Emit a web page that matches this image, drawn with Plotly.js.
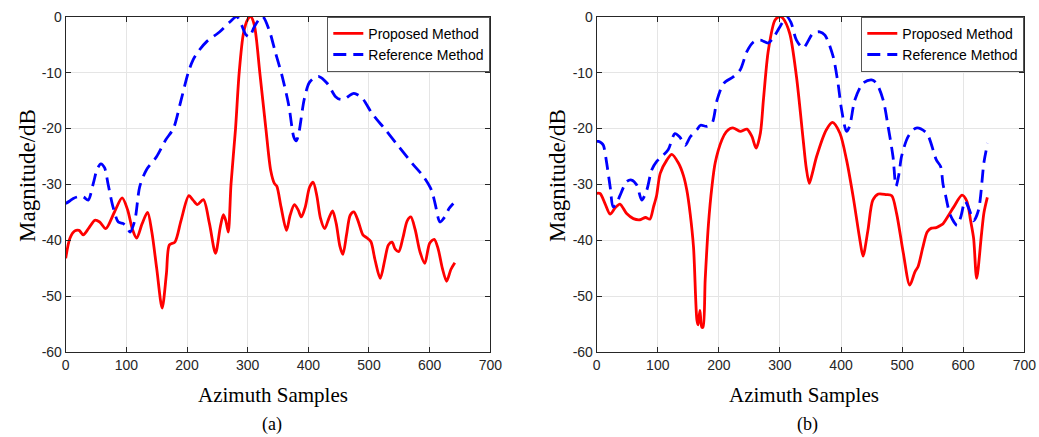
<!DOCTYPE html>
<html>
<head>
<meta charset="utf-8">
<script src="https://cdn.plot.ly/plotly-3.0.1.min.js"></script>
<style>html,body{margin:0;padding:0;background:#fff;}#chart{width:1039px;height:437px;}</style>
</head>
<body>
<div id="chart"></div>
<script>
// ---- Data ----
const seriesNames = ["Proposed Method", "Reference Method"];
const xTickVals = [0, 100, 200, 300, 400, 500, 600, 700];
const xTickText = ["0", "100", "200", "300", "400", "500", "600", "700"];
const yTickVals = [-60, -50, -40, -30, -20, -10, 0];
const yTickText = ["-60", "-50", "-40", "-30", "-20", "-10", "0"];
const panelLabels = ["(a)", "(b)"];

// Panel (a) – Proposed Method
const aPropX = [0,7,15,22,29,38,48,56,66,80,93,102,110,117,126,135,142,150,159,166,171,180,190,203,210,217,227,237,247,255,260,264,268,272.5,280,286,293,300,305,311,320,330,338,344,348,355,364,370,377,383,388.5,395,402,408,414,420,427,434,440,446,452,457,463,469,475,482,490,496,503,510,518.6,526,532,538,543,549,556,563,569,576,584,592,600,607.6,614,621,628,635,641.5];
const aPropY = [-43.2,-39.6,-38.3,-38.2,-39.0,-37.8,-36.4,-36.7,-37.9,-35.0,-32.4,-34.5,-38.0,-39.6,-37.0,-35.0,-38.5,-45.0,-52.1,-46.0,-40.8,-40.3,-36.5,-32.0,-32.8,-33.6,-32.7,-37.0,-42.3,-37.5,-35.4,-36.5,-38.5,-30,-20,-10,-3,-0.5,0,-1.5,-10,-20,-27.5,-29.8,-30.3,-34,-38.2,-35.5,-33.6,-34.5,-35.8,-34,-30.5,-29.6,-32,-36,-37.9,-36,-34.7,-37,-41,-42.5,-39,-35.5,-34.9,-36.5,-39,-39.5,-40.2,-43.5,-46.8,-43.5,-40.8,-40.3,-41.5,-42.0,-39.5,-36.5,-35.8,-38,-42,-44.1,-40.5,-39.8,-41.5,-45,-47.3,-45.2,-44];
// Panel (a) – Reference Method
const aRefX = [0,6,12.5,20,29,37,45.5,52,58,64,70,78,86.7,95,100,106,114,122,133,150,165,177.5,190,202,210,220,232,254,271,282,290,297,303,310,318,325,335.5,346,357,368,376,380,384,393,401,409,417.5,431,445,453,461,475,489,505,527,549,571,590,603,609,617,625,632,639];
const aRefY = [-33.4,-33.0,-32.5,-32.2,-32.2,-32.8,-29.8,-27.2,-26.3,-27.0,-30,-34,-36.7,-37,-37.5,-38.5,-36.4,-30.4,-27.4,-25,-22,-20,-15,-10,-7.7,-6,-4.5,-2.7,-0.9,0,-1.5,-3.2,-3.6,-2,-0.6,0,-2.4,-6.5,-10.7,-16,-21.5,-22.2,-21,-14.9,-11.9,-11,-10.7,-11.9,-14.3,-14.8,-14.6,-13.7,-14.6,-17.3,-20.2,-23.2,-26.2,-28.6,-31,-33.4,-36.7,-35.8,-34.3,-33.4];

// Panel (b) – Proposed Method
const bPropX = [0,5.5,13.6,22,30,38,49,60,71,80,87,93,98,104,115,123,134,142,147.5,153,158.5,164,166,169,172,174,177.6,183,188.5,194,205,212,218.6,224,235,246,254,261,268,273,281,292,300,305,316,327,338,343,348,353,360,376,386,398,409,420,431,436,444,452,461,474,483,491,502,512.5,521,526,534,541,548,556,563,567,584.6,598,606,612,617,622,630,634,639.5];
const bPropY = [-31.6,-31.6,-33.4,-35.3,-34.2,-33.5,-35.2,-36.1,-36.3,-35.9,-36.2,-34,-32,-28,-25.6,-24.6,-26.2,-28.4,-31,-35.2,-41.2,-54.2,-55.1,-52.5,-55.5,-55.5,-47,-37,-30.5,-26.1,-22,-20.6,-20,-19.9,-20.5,-20.1,-21.4,-23.5,-20.8,-14.8,-6,-0.6,0,-0.3,-3,-10.7,-22,-27,-29.8,-28,-25,-20.2,-18.9,-20.8,-25.6,-32.3,-40,-42.8,-38.2,-32.8,-31.7,-31.8,-32,-35.2,-42.3,-48,-45.6,-44.7,-41.2,-38.5,-37.8,-37.7,-37.3,-37,-34,-31.9,-33,-36.4,-39.6,-46.8,-38.8,-35,-32.3];
// Panel (b) – Reference Method
const bRefX = [0,3,8,11,16.4,22,27,32,38,49,57,65.6,73.8,82,90,98,106.6,117,128,136,145,153,164,170,180,189,197,208,224,235,246,257,268,281,290,300,311,318,327,338,354,365,373.6,387,395,401,409,414,422.6,436,450,458,469,477,485,490,495,499,510,523,540,556,563,567,571,579,590,596,603,610,617,625,634,640];
const bRefY = [-22.3,-22.3,-22.6,-23,-26.2,-30.4,-34,-33.5,-32,-29.5,-29.2,-30.1,-32.8,-31,-27.4,-25.9,-25,-23.8,-20.9,-21.5,-23,-21.5,-20.2,-19.4,-19.6,-19,-14.9,-11.9,-10.7,-9.5,-6.2,-4.5,-4.2,-4.7,-3.6,-1.8,0,-1,-4.2,-5.6,-3,-2.7,-3.3,-7.1,-11.9,-16.7,-20.5,-19.6,-14.9,-11.9,-11.3,-11.9,-14.9,-19.6,-25,-30.3,-28,-25,-21.4,-19.9,-20.8,-25.6,-26.8,-30,-31.9,-35.5,-37.3,-35.8,-33,-34.5,-36.5,-34.6,-26,-22.6];

// ---- Styling ----
const RED = "#ff0000", BLUE = "#0000ff";
const AX = "#262626", GRID = "#e5e5e5";
const W = 1039, H = 437;
const domA = [65.7 / W, 490.3 / W];
const domB = [596.7 / W, 1024.3 / W];
const domY = [1 - 352.3 / H, 1 - 16.7 / H];
const SANS = "Liberation Sans";
const SERIF = "Liberation Serif";

function propLine() { return {color: RED, width: 2.8, shape: "spline", smoothing: 0.8}; }
function refLine() { return {color: BLUE, width: 2.8, dash: "13px,7px", shape: "spline", smoothing: 0.8}; }

const traces = [
  {x: aPropX, y: aPropY, name: seriesNames[0], mode: "lines", line: propLine(), xaxis: "x", yaxis: "y", legend: "legend"},
  {x: aRefX, y: aRefY, name: seriesNames[1], mode: "lines", line: refLine(), xaxis: "x", yaxis: "y", legend: "legend"},
  {x: bPropX, y: bPropY, name: seriesNames[0], mode: "lines", line: propLine(), xaxis: "x2", yaxis: "y2", legend: "legend2"},
  {x: bRefX, y: bRefY, name: seriesNames[1], mode: "lines", line: refLine(), xaxis: "x2", yaxis: "y2", legend: "legend2"}
];

const tickFont = {family: SANS, size: 14, color: AX};
function xAxis(dom, anchor) {
  return {domain: dom, anchor: anchor, range: [0, 700], tickvals: xTickVals, ticktext: xTickText,
    showgrid: true, gridcolor: GRID, gridwidth: 1, zeroline: false,
    showline: true, linecolor: AX, linewidth: 1, mirror: "ticks",
    ticks: "inside", ticklen: 5, tickcolor: AX, tickfont: tickFont, fixedrange: true};
}
function yAxis(anchor) {
  return {domain: domY, anchor: anchor, range: [-60, 0], tickvals: yTickVals, ticktext: yTickText,
    showgrid: true, gridcolor: GRID, gridwidth: 1, zeroline: false,
    showline: true, linecolor: AX, linewidth: 1, mirror: "ticks",
    ticks: "inside", ticklen: 5, tickcolor: AX, tickfont: tickFont, fixedrange: true};
}
function legendAt(xr) {
  return {x: xr, xanchor: "right", y: domY[1], yanchor: "top", bgcolor: "#ffffff",
    bordercolor: "#555555", borderwidth: 1, font: {family: SANS, size: 14, color: "#000"},
    tracegroupgap: 0, itemwidth: 30};
}

function note(text, px, py, size, angle) {
  return {text: text, x: px / W, y: 1 - py / H, xref: "paper", yref: "paper", xanchor: "center", yanchor: "middle",
    showarrow: false, textangle: angle || 0, font: {family: SERIF, size: size, color: "#000"}};
}
const ann = [
  note("Magnitude/dB", 27, 176, 23, -90),
  note("Magnitude/dB", 557, 176, 23, -90),
  note("Azimuth Samples", 273, 395, 21),
  note("Azimuth Samples", 804, 395, 21),
  note(panelLabels[0], 272, 424, 18),
  note(panelLabels[1], 807, 424, 18)
];

const layout = {
  width: W, height: H, margin: {l: 0, r: 0, t: 0, b: 0},
  paper_bgcolor: "#ffffff", plot_bgcolor: "#ffffff",
  showlegend: true,
  xaxis: xAxis(domA, "y"), yaxis: yAxis("x"),
  xaxis2: xAxis(domB, "y2"), yaxis2: yAxis("x2"),
  legend: legendAt(domA[1]), legend2: legendAt(domB[1]),
  annotations: ann
};

Plotly.newPlot("chart", traces, layout, {displayModeBar: false, staticPlot: true});
</script>
</body>
</html>
